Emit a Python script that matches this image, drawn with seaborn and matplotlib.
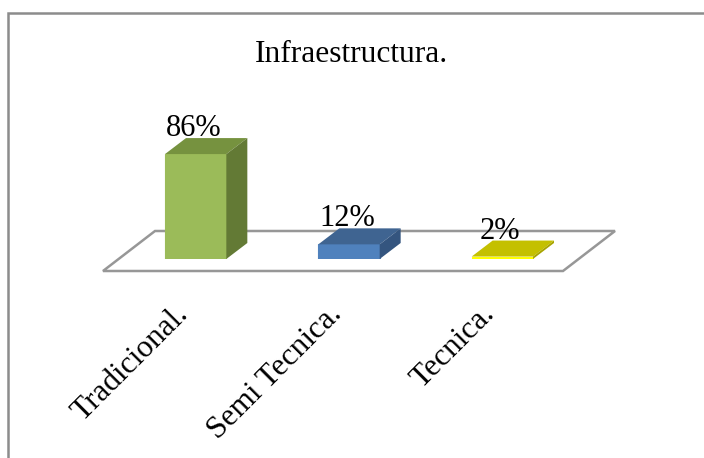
import matplotlib
matplotlib.use("Agg")
import matplotlib.pyplot as plt
from matplotlib.patches import Polygon, Rectangle
from matplotlib.transforms import ScaledTranslation
import pandas as pd
import seaborn as sns

# Values
categories = ["Tradicional.", "Semi Tecnica.", "Tecnica."]
values = [86, 12, 2]
labels = ["86%", "12%", "2%"]
front_colors = ["#9BBB59", "#4F81BD", "#FFFF00"]
top_colors = ["#76923F", "#3F6491", "#C4C000"]
side_colors = ["#637A35", "#34557F", "#A8A400"]

W, H = 704, 458

sns.set_theme(style="white")
plt.rcParams["font.family"] = ["Liberation Serif", "DejaVu Serif"]

fig = plt.figure(figsize=(W / 100, H / 100), dpi=100, facecolor="white")

# Axes holds the front faces of the bars, baseline at y=259px
ax = fig.add_axes([119 / W, 1 - 259 / H, 460 / W, 122 / H])

df = pd.DataFrame({"cat": categories, "val": values})
sns.barplot(data=df, x="cat", y="val", hue="cat", palette=front_colors,
            width=0.4, legend=False, saturation=1, ax=ax, zorder=3)
ax.set_xlim(-0.5, 2.5)
ax.set_ylim(0, 100)

# 3D depth of a bar, pixels converted to data units
px_x = 3 / 460
px_y = 100 / 122
dx = 21 * px_x
dy = 16 * px_y

# Floor of the chart
floor_front = -12 * px_y
floor_back = 28 * px_y
skew = 52 * px_x
x0 = -0.5 - 16 * px_x
x1 = 2.5 - 16 * px_x
ax.add_patch(Polygon([(x0, floor_front), (x1, floor_front),
                      (x1 + skew, floor_back), (x0 + skew, floor_back)],
                     closed=True, facecolor="white", edgecolor="#979797",
                     linewidth=1.8, clip_on=False, zorder=1))

# Top and side of each bar, then its value
for bar, lab, top_c, side_c in zip(ax.patches, labels, top_colors, side_colors):
    bar.set_edgecolor(bar.get_facecolor())
    bar.set_linewidth(0.8)
    left = bar.get_x()
    right = left + bar.get_width()
    h = bar.get_height()
    ax.add_patch(Polygon([(left, h), (right, h), (right + dx, h + dy), (left + dx, h + dy)],
                         closed=True, facecolor=top_c, edgecolor="none",
                         clip_on=False, zorder=3))
    ax.add_patch(Polygon([(right, 0), (right + dx, dy), (right + dx, h + dy), (right, h)],
                         closed=True, facecolor=side_c, edgecolor="none",
                         clip_on=False, zorder=3))
    ax.text(left + bar.get_width() / 2 - 2 * px_x, h + dy + 2 * px_y, lab,
            ha="center", va="baseline", fontsize=22, color="black", zorder=4, clip_on=False)

# Tick labels
ax.set_xlabel("")
ax.set_ylabel("")
ax.set_yticks([])
ax.set_xticks(range(len(categories)))
ax.set_xticklabels(categories, rotation=45, ha="right", rotation_mode="anchor",
                   fontsize=22.5, color="black")
ax.tick_params(axis="x", length=0, pad=29)
shift = ScaledTranslation(-22 / 100, 0, fig.dpi_scale_trans)
for tick in ax.get_xticklabels():
    tick.set_transform(tick.get_transform() + shift)
for spine in ax.spines.values():
    spine.set_visible(False)
ax.patch.set_alpha(0)

fig.text(351 / W, 1 - 55 / H, "Infraestructura.", ha="center", va="center",
         fontsize=22.7, color="black")

# Chart border, runs off the right and bottom of the picture
fig.add_artist(Rectangle((8 / W, -0.1), 1, 1.1 - 13.5 / H, transform=fig.transFigure,
                         facecolor="none", edgecolor="#8C8C8C", linewidth=1.8))

fig.savefig("out.png", dpi=100)
